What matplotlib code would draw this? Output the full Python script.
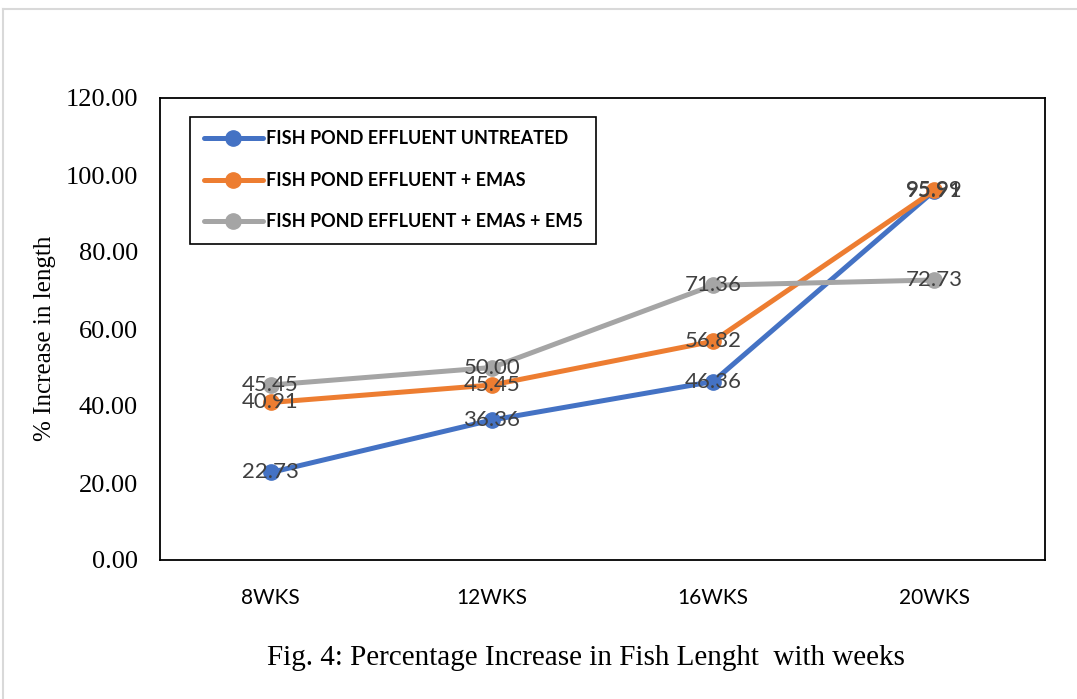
import matplotlib
matplotlib.use('Agg')
import matplotlib.pyplot as plt
from matplotlib.lines import Line2D

weeks = ['8WKS', '12WKS', '16WKS', '20WKS']
untreated = [22.73, 36.36, 46.36, 95.91]
emas = [40.91, 45.45, 56.82, 95.99]
emas_em5 = [45.45, 50.00, 71.36, 72.73]
series_names = ['FISH POND EFFLUENT UNTREATED', 'FISH POND EFFLUENT + EMAS',
                'FISH POND EFFLUENT + EMAS + EM5']
colors = ['#4472C4', '#ED7D31', '#A5A5A5']

W, H = 1077, 699
fig = plt.figure(figsize=(W / 100, H / 100), dpi=100)

# light outer frame of the picture
fig.add_artist(Line2D([3 / W, 1], [1 - 9 / H, 1 - 9 / H], transform=fig.transFigure,
                      color='#d9d9d9', lw=1.5))
fig.add_artist(Line2D([3 / W, 3 / W], [0, 1 - 9 / H], transform=fig.transFigure,
                      color='#d9d9d9', lw=1.5))

ax = fig.add_axes([160 / W, (H - 560) / H, 885 / W, 462 / H])
x = list(range(len(weeks)))
for vals, name, c in zip([untreated, emas, emas_em5], series_names, colors):
    ax.plot(x, vals, color=c, lw=3.6, marker='o', markersize=11, label=name,
            solid_capstyle='round')
    for xi, v in zip(x, vals):
        ax.text(xi, v, '%.2f' % v, ha='center', va='center', fontsize=16,
                family='Lato', color='#404040')

ax.set_xlim(-0.5, 3.5)
ax.set_ylim(0, 120)
ax.set_yticks(range(0, 121, 20))
ax.set_yticklabels(['%.2f' % t for t in range(0, 121, 20)], family='Liberation Serif',
                   fontsize=19)
ax.set_xticks(x)
ax.set_xticklabels(weeks, family='Lato', fontsize=15)
ax.tick_params(axis='y', length=0, pad=16)
ax.tick_params(axis='x', length=0, pad=20)
for s in ax.spines.values():
    s.set_linewidth(1.3)
    s.set_color('black')

leg = ax.legend(loc='upper left', bbox_to_anchor=(0.034, 0.959), fancybox=False,
                edgecolor='black', framealpha=1, borderpad=0.75, labelspacing=1.35,
                handlelength=3.3, handletextpad=0.15, borderaxespad=0,
                prop={'family': 'Lato', 'weight': 'bold', 'size': 13})
leg.get_frame().set_linewidth(1.2)

fig.text(45 / W, (H - 338) / H, '% Increase in length', rotation=90, ha='center',
         va='center', family='Liberation Serif', fontsize=18)
fig.text(586 / W, (H - 658) / H, 'Fig. 4: Percentage Increase in Fish Lenght  with weeks',
         ha='center', va='center', family='Liberation Serif', fontsize=21)

fig.savefig('out.png', dpi=100)
